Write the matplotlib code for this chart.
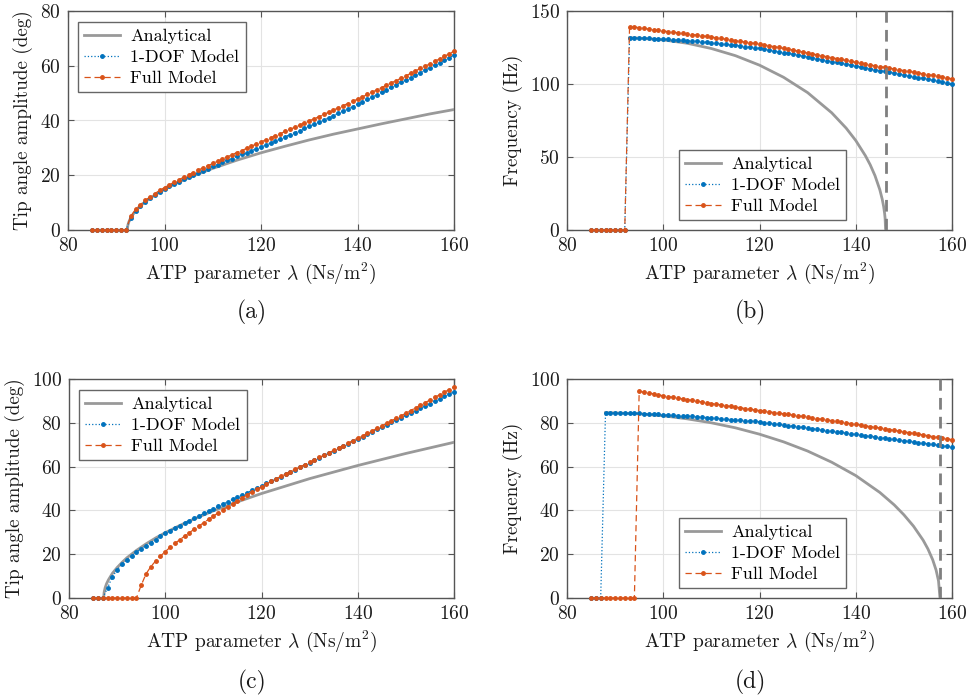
import numpy as np
import matplotlib
matplotlib.use("Agg")
import matplotlib.pyplot as plt

plt.rcParams['font.family'] = ['cmr10', 'DejaVu Serif']
plt.rcParams['mathtext.fontset'] = 'cm'
plt.rcParams['axes.formatter.use_mathtext'] = True
plt.rcParams['axes.unicode_minus'] = False

# ---------------- data ----------------
lam = list(range(85, 161))  # ATP parameter samples (model)

# (a) tip angle amplitude, case 1
amp1_dof = [0]*8 + [
    4.3, 7.0, 8.8, 10.3, 11.6, 12.8, 13.9, 14.9,
    15.9, 16.8, 17.7, 18.5, 19.3, 20.1, 20.9, 21.7, 22.4, 23.2,
    23.9, 24.7, 25.4, 26.1, 26.9, 27.6, 28.3, 29.0, 29.7, 30.4,
    31.1, 31.8, 32.6, 33.3, 34.1, 34.8, 35.6, 36.3, 37.1, 37.9,
    38.6, 39.4, 40.2, 41.0, 41.8, 42.6, 43.5, 44.3, 45.1, 46.0,
    46.8, 47.7, 48.5, 49.4, 50.3, 51.2, 52.1, 53.0, 53.9, 54.8,
    55.7, 56.6, 57.5, 58.4, 59.3, 60.2, 61.1, 62.0, 63.0, 63.9]
amp1_full = [0]*8 + [
    5.0, 7.5, 9.2, 10.8, 12.1, 13.3, 14.5, 15.5,
    16.5, 17.5, 18.4, 19.3, 20.2, 21.0, 21.9, 22.7, 23.5, 24.3,
    25.1, 25.9, 26.7, 27.5, 28.3, 29.0, 29.8, 30.6, 31.4, 32.2,
    32.9, 33.7, 34.5, 35.2, 36.0, 36.8, 37.5, 38.3, 39.1, 39.9,
    40.6, 41.4, 42.2, 43.0, 43.8, 44.6, 45.4, 46.2, 47.0, 47.8,
    48.6, 49.5, 50.3, 51.2, 52.0, 52.9, 53.7, 54.6, 55.4, 56.3,
    57.2, 58.1, 59.0, 59.8, 60.7, 61.6, 62.5, 63.4, 64.4, 65.3]
lam_an1 = [92.3, 92.4, 92.6, 93, 94, 95, 96, 97, 98, 99, 100, 102, 105, 107, 110,
           115, 120, 125, 130, 135, 140, 145, 150, 155, 160]
amp1_an = [0, 1.7, 2.9, 4.5, 7.0, 8.8, 10.3, 11.6, 12.8, 13.8, 14.8, 16.7, 19.1, 20.5, 22.5,
           25.5, 28.2, 30.6, 32.9, 35.0, 36.9, 38.8, 40.6, 42.4, 44.0]

# (b) frequency, case 1
freq1_dof = [0]*8 + [
    131.5, 131.5, 131.4, 131.3, 131.2, 131.1, 131.0, 130.9,
    130.7, 130.4, 130.2, 129.9, 129.7, 129.4, 129.2, 128.9, 128.7, 128.4,
    128.0, 127.6, 127.2, 126.8, 126.4, 126.0, 125.6, 125.2, 124.8, 124.4,
    123.8, 123.2, 122.6, 122.1, 121.5, 120.9, 120.3, 119.8, 119.2, 118.6,
    118.0, 117.3, 116.7, 116.0, 115.4, 114.8, 114.1, 113.5, 112.8, 112.2,
    111.6, 111.0, 110.4, 109.8, 109.2, 108.6, 108.0, 107.4, 106.8, 106.2,
    105.6, 105.0, 104.4, 103.8, 103.2, 102.6, 102.0, 101.4, 100.8, 100.2]
freq1_full = [0]*8 + [
    139.2, 139.0, 138.6, 138.1, 137.6, 137.1, 136.7, 136.3,
    135.9, 135.5, 135.1, 134.7, 134.3, 133.9, 133.5, 133.0, 132.6, 132.1,
    131.7, 131.2, 130.7, 130.2, 129.7, 129.2, 128.7, 128.2, 127.8, 127.4,
    126.8, 126.2, 125.6, 125.0, 124.4, 123.8, 123.2, 122.5, 121.9, 121.2,
    120.6, 120.0, 119.3, 118.7, 118.1, 117.4, 116.8, 116.1, 115.5, 114.8,
    114.2, 113.6, 113.0, 112.5, 111.9, 111.4, 110.8, 110.3, 109.7, 109.2,
    108.6, 108.1, 107.5, 107.0, 106.4, 105.9, 105.3, 104.7, 104.2, 103.6]
lam_fan1 = [93, 95, 100, 105, 110, 115, 120, 125, 130, 135, 138, 140, 142, 143, 144,
            145, 145.5, 145.8, 146.0, 146.1, 146.2]
freq1_an = [131.6, 131.4, 130.2, 127.9, 124.3, 119.4, 112.9, 104.6, 94.1, 80.3, 69.8, 61.3,
            50.9, 44.7, 37.2, 27.6, 21.1, 16.0, 11.3, 8.0, 0]
lam_crit1 = 146.2

# (c) tip angle amplitude, case 2
amp2_dof = [0]*3 + [
    4.5, 9.7, 12.8, 15.3, 17.3, 19.2, 20.9, 22.4, 23.9, 25.3, 26.6, 28.2, 29.7,
    30.8, 31.9, 33.0, 34.1, 35.3, 36.4, 37.5, 38.6, 39.7, 40.8,
    41.8, 42.9, 43.9, 45.0, 46.0, 47.1, 48.1, 49.2, 50.2, 51.2,
    52.3, 53.3, 54.4, 55.4, 56.5, 57.6, 58.6, 59.7, 60.8, 61.8,
    62.9, 64.0, 65.1, 66.1, 67.2, 68.3, 69.4, 70.4, 71.5, 72.6,
    73.7, 74.8, 75.9, 77.0, 78.0, 79.1, 80.2, 81.3, 82.4, 83.4,
    84.5, 85.6, 86.7, 87.8, 88.8, 89.9, 91.0, 92.1, 93.1, 94.2]
amp2_full = [0]*10 + [
    5.8, 11.0, 14.3, 16.9, 19.1, 21.2,
    23.1, 24.9, 26.6, 28.2, 29.8, 31.4, 32.9, 34.4, 35.9, 37.4,
    38.9, 40.3, 41.7, 43.1, 44.5, 45.8, 47.1, 48.4, 49.6, 50.8,
    52.0, 53.2, 54.3, 55.5, 56.6, 57.7, 58.8, 59.9, 60.9, 62.0,
    63.1, 64.2, 65.2, 66.3, 67.4, 68.5, 69.6, 70.7, 71.9, 73.0,
    74.1, 75.2, 76.3, 77.5, 78.6, 79.8, 80.9, 82.1, 83.2, 84.4,
    85.6, 86.8, 88.0, 89.2, 90.4, 91.6, 92.8, 94.0, 95.2, 96.4]
lam_an2 = [87.2, 87.3, 87.5, 87.8, 88.2, 89, 90, 91, 92, 94, 96, 98, 100, 103, 106,
           110, 115, 120, 130, 140, 150, 160]
amp2_an = [0, 2.6, 4.6, 6.5, 8.3, 11.2, 13.9, 16.2, 18.3, 21.7, 24.7, 27.4, 29.8, 33.1, 36.1,
           39.8, 43.9, 47.7, 54.5, 60.5, 66.0, 71.1]

# (d) frequency, case 2
freq2_dof = [0]*3 + [
    84.6, 84.6, 84.5, 84.5, 84.4, 84.4, 84.3, 84.3, 84.2, 84.1, 84.0, 83.9, 83.7,
    83.6, 83.5, 83.3, 83.2, 83.0, 82.9, 82.7, 82.6, 82.4, 82.3,
    82.1, 81.9, 81.7, 81.5, 81.4, 81.2, 81.0, 80.8, 80.6, 80.4,
    80.1, 79.8, 79.6, 79.3, 79.0, 78.7, 78.5, 78.2, 77.9, 77.6,
    77.3, 77.0, 76.7, 76.4, 76.2, 75.9, 75.6, 75.3, 75.0, 74.7,
    74.4, 74.1, 73.8, 73.5, 73.2, 73.0, 72.7, 72.4, 72.1, 71.8,
    71.5, 71.2, 70.9, 70.7, 70.4, 70.1, 69.8, 69.6, 69.3, 69.0]
freq2_full = [0]*10 + [
    94.3, 94.0, 93.6, 93.2, 92.8, 92.3,
    92.0, 91.6, 91.3, 90.9, 90.6, 90.2, 89.9, 89.5, 89.2, 88.8,
    88.5, 88.2, 87.8, 87.5, 87.2, 86.9, 86.5, 86.2, 85.9, 85.6,
    85.3, 85.0, 84.7, 84.4, 84.1, 83.8, 83.5, 83.2, 82.9, 82.5,
    82.2, 81.9, 81.6, 81.3, 81.0, 80.6, 80.3, 80.0, 79.6, 79.3,
    79.0, 78.6, 78.3, 78.0, 77.6, 77.3, 76.9, 76.6, 76.2, 75.9,
    75.5, 75.2, 74.8, 74.5, 74.1, 73.7, 73.4, 73.0, 72.7, 72.3]
lam_fan2 = [88, 90, 95, 100, 105, 110, 115, 120, 125, 130, 135, 140, 145, 148, 150,
            152, 154, 155, 156, 156.7, 157.2, 157.5]
freq2_an = [84.6, 84.5, 84.1, 83.2, 81.8, 80.0, 77.7, 74.8, 71.3, 67.1, 62.0, 55.9, 48.2, 42.5, 38.0,
            32.8, 26.4, 22.4, 17.4, 12.7, 7.8, 0]
lam_crit2 = 157.5

labels = ["Analytical", "1-DOF Model", "Full Model"]
xticks = [80, 100, 120, 140, 160]

# ---------------- style ----------------
C_AN = '#999999'
C_DOF = '#0072BD'
C_FULL = '#D95319'
C_AX = '#555555'
C_TXT = '#1a1a1a'

W, H = 969, 698
fig = plt.figure(figsize=(W/100, H/100), dpi=100)

def ax_at(l, t, r, b):
    return fig.add_axes([l/W, 1 - b/H, (r - l)/W, (b - t)/H])

panels = [
    dict(rect=(68, 11, 454, 230), an=(lam_an1, amp1_an), dof=amp1_dof, full=amp1_full,
         ylim=(0, 80), yticks=[0, 20, 40, 60, 80], ylabel="Tip angle amplitude (deg)",
         crit=None, leg=dict(loc='upper left', bbox_to_anchor=(0.026, 0.95)), tag="(a)", tagpos=(252, 312)),
    dict(rect=(567, 11, 952, 230), an=(lam_fan1, freq1_an), dof=freq1_dof, full=freq1_full,
         ylim=(0, 150), yticks=[0, 50, 100, 150], ylabel="Frequency (Hz)",
         crit=lam_crit1, leg=dict(loc='lower left', bbox_to_anchor=(0.29, 0.044)), tag="(b)", tagpos=(750, 312)),
    dict(rect=(69, 379, 454, 598), an=(lam_an2, amp2_an), dof=amp2_dof, full=amp2_full,
         ylim=(0, 100), yticks=[0, 20, 40, 60, 80, 100], ylabel="Tip angle amplitude (deg)",
         crit=None, leg=dict(loc='upper left', bbox_to_anchor=(0.026, 0.95)), tag="(c)", tagpos=(252, 682)),
    dict(rect=(567, 379, 952, 598), an=(lam_fan2, freq2_an), dof=freq2_dof, full=freq2_full,
         ylim=(0, 100), yticks=[0, 20, 40, 60, 80, 100], ylabel="Frequency (Hz)",
         crit=lam_crit2, leg=dict(loc='lower left', bbox_to_anchor=(0.29, 0.044)), tag="(d)", tagpos=(750, 682)),
]

for p in panels:
    ax = ax_at(*p['rect'])
    ax.plot(p['an'][0], p['an'][1], color=C_AN, lw=2.0, label=labels[0], zorder=3)
    ax.plot(lam, p['dof'], color=C_DOF, lw=0.9, ls=':', marker='.', ms=5,
            label=labels[1], zorder=4, clip_on=False)
    ax.plot(lam, p['full'], color=C_FULL, lw=0.9, ls=(0, (5, 3)), marker='.', ms=5,
            label=labels[2], zorder=5, clip_on=False)
    if p['crit'] is not None:
        ax.plot([p['crit'], p['crit']], list(p['ylim']), color='#7f7f7f', lw=2.0,
                ls=(0, (4.2, 2.6)), zorder=6)
    ax.set_xlim(80, 160)
    ax.set_ylim(*p['ylim'])
    ax.set_xticks(xticks)
    ax.set_yticks(p['yticks'])
    ax.grid(True, color='#e3e3e3', lw=0.8)
    ax.set_axisbelow(True)
    for s in ax.spines.values():
        s.set_color(C_AX)
        s.set_linewidth(1.0)
    ax.tick_params(direction='in', length=4, width=0.8, color=C_AX, top=True, right=True,
                   labelsize=14, pad=5, labelcolor=C_TXT)
    ax.set_xlabel(r"ATP parameter $\lambda$ (Ns/m$^2$)", fontsize=14, labelpad=4, color=C_TXT)
    ax.set_ylabel(p['ylabel'], fontsize=13.8, labelpad=5, color=C_TXT)
    leg = ax.legend(fontsize=13, frameon=True, fancybox=False, framealpha=1,
                    edgecolor='#666666', handlelength=2.0, handletextpad=0.55,
                    labelspacing=0.3, borderpad=0.35, borderaxespad=0, **p['leg'])
    leg.get_frame().set_linewidth(1.0)
    leg.set_zorder(10)
    fig.text(p['tagpos'][0]/W, 1 - p['tagpos'][1]/H, p['tag'], ha='center', va='center',
             fontsize=17, color=C_TXT)

fig.savefig("out.png", dpi=100)
